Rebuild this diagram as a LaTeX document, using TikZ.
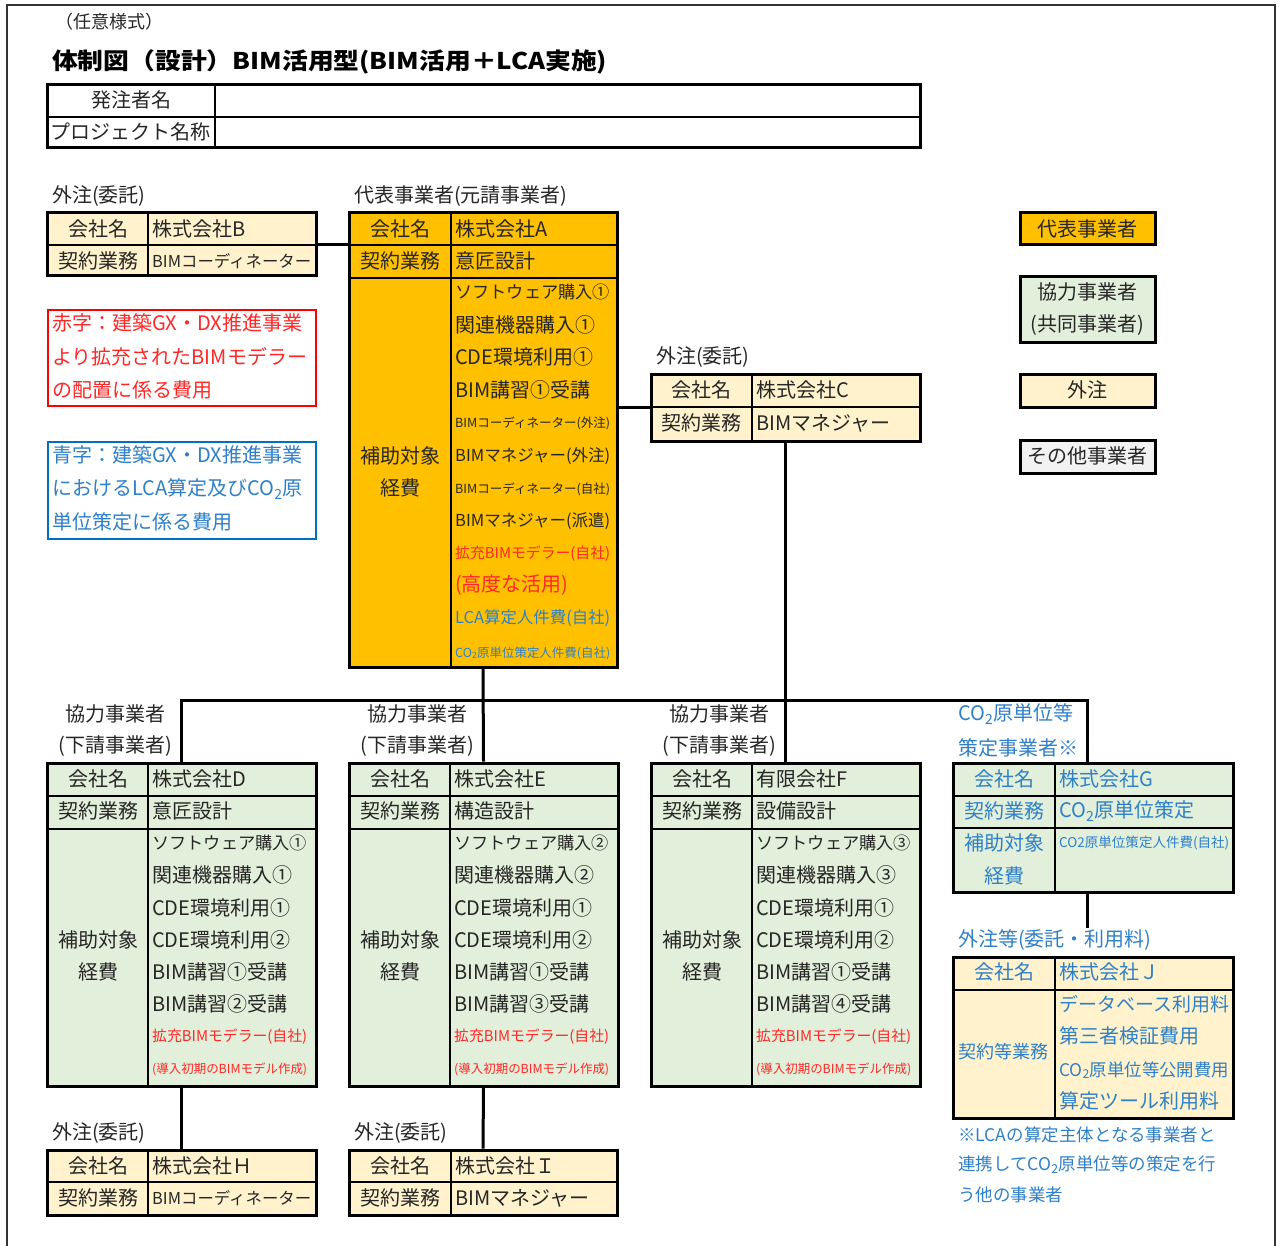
\documentclass[tikz,border=0pt]{standalone}
\usepackage{fontspec}
\usepackage{graphicx}
\setmainfont{Noto Sans CJK JP}
\usetikzlibrary{fit}

\definecolor{orgA}{RGB}{255,192,0}
\definecolor{outY}{RGB}{255,242,204}
\definecolor{coopG}{RGB}{226,239,218}
\definecolor{othG}{RGB}{242,242,242}
\definecolor{txtK}{RGB}{38,38,38}
\definecolor{txtR}{RGB}{255,40,40}
\definecolor{txtB}{RGB}{47,128,200}
\definecolor{boxB}{RGB}{0,112,192}

\newsavebox\fitsb
\newcommand\fitbox[2]{\sbox\fitsb{#2}\ifdim\wd\fitsb>#1pt\relax\resizebox{#1pt}{!}{\usebox\fitsb}\else\usebox\fitsb\fi}
\newcommand\COt{CO\textsubscript{2}}
\newcounter{tn}
\newcommand\tx[4][]{\stepcounter{tn}\node[txt,#1] (t\arabic{tn}) at (#2,#3) {#4};}
\newcommand\li[4][]{\tx[#1]{#2}{#3}{\fitbox{\fw}{#4}}}
\def\fw{155}

\tikzset{
  txt/.style={inner sep=0pt, anchor=west, text=txtK, font=\fontsize{20}{24}\selectfont},
  bx/.style={draw=black, line width=3pt, inner sep=0pt, rectangle},
  gl/.style={line width=2.5pt, black},
  conn/.style={line width=3pt, black}
}

% cooperating sub-contractor box
\newcommand\coop[7]{%
  \pgfmathsetmacro\xr{#2+269}\pgfmathsetmacro\xc{#2+101}%
  \pgfmathsetmacro\xm{#2+51}\pgfmathsetmacro\xt{#2+105}\pgfmathsetmacro\xl{#2+68}%
  \node[bx, fill=coopG, fit={(#2,763)(\xr,1086)}] (#1) {};
  \draw[gl] (\xc,763) -- (\xc,1086);
  \draw[gl] (#2,796) -- (\xr,796);
  \draw[gl] (#2,829) -- (\xr,829);
  \tx[anchor=center]{\xl}{714}{協力事業者}
  \tx[anchor=center]{\xl}{746}{(下請事業者)}
  \tx[anchor=center]{\xm}{779}{会社名}
  \tx[anchor=center]{\xm}{811}{契約業務}
  \tx[anchor=center]{\xm}{940}{補助対象}
  \tx[anchor=center]{\xm}{972}{経費}
  \tx{\xt}{779}{#3}
  \tx{\xt}{811}{#4}
  \li{\xt}{843}{ソフトウェア購入#5}
  \li{\xt}{875}{関連機器購入#6}
  \li{\xt}{908}{CDE環境利用①}
  \li{\xt}{940}{CDE環境利用②}
  \li{\xt}{972}{BIM講習①受講}
  \li{\xt}{1004}{BIM講習#7受講}
  \li[text=txtR]{\xt}{1037}{拡充BIMモデラー(自社)}
  \li[text=txtR]{\xt}{1069}{(導入初期のBIMモデル作成)}
}

\begin{document}
\begin{tikzpicture}[x=1pt, y=-1pt]
\useasboundingbox (0,0) rectangle (1279,1246);
\fill[white] (0,0) rectangle (1279,1246);
\draw[line width=1.5pt, black!80] (7,1246) -- (7,5) -- (1275,5) -- (1275,1246);

% header
\tx[font=\fontsize{18}{22}\selectfont]{55}{22}{（任意様式）}
\tx[font=\fontsize{23}{27}\selectfont\bfseries, text=black]{52}{62}{\resizebox{555pt}{\height}{体制図（設計）BIM活用型(BIM活用＋LCA実施)}}
\node[bx, fill=white, fit={(47,85)(920,148)}] (T) {};
\draw[gl] (215,85) -- (215,148);
\draw[gl] (47,117) -- (920,117);
\tx[anchor=center]{131}{100}{発注者名}
\tx{50}{132}{\fitbox{162}{プロジェクト名称}}

% labels
\tx{52}{196}{外注(委託)}
\tx{354}{196}{代表事業者(元請事業者)}

% box B
\node[bx, fill=outY, fit={(47,213)(316,276)}] (B) {};
\draw[gl] (148,213) -- (148,276);
\draw[gl] (47,245) -- (316,245);
\tx[anchor=center]{98}{229}{会社名}
\tx{152}{229}{株式会社B}
\tx[anchor=center]{98}{261}{契約業務}
\tx{152}{261}{\fitbox{159}{BIMコーディネーター}}

% box A
\node[bx, fill=orgA, fit={(349,213)(617,667)}] (A) {};
\draw[gl] (451,213) -- (451,667);
\draw[gl] (349,245) -- (617,245);
\draw[gl] (349,278) -- (617,278);
\tx[anchor=center]{400}{229}{会社名}
\tx{455}{229}{株式会社A}
\tx[anchor=center]{400}{261}{契約業務}
\tx{455}{261}{意匠設計}
\tx[anchor=center]{400}{456}{補助対象}
\tx[anchor=center]{400}{488}{経費}
\li{455}{292}{ソフトウェア購入①}
\li{455}{325}{関連機器購入①}
\li{455}{357}{CDE環境利用①}
\li{455}{390}{BIM講習①受講}
\li{455}{423}{BIMコーディネーター(外注)}
\li{455}{456}{BIMマネジャー(外注)}
\li{455}{489}{BIMコーディネーター(自社)}
\li{455}{521}{BIMマネジャー(派遣)}
\li[text=txtR]{455}{554}{拡充BIMモデラー(自社)}
\li[text=txtR]{455}{585}{(高度な活用)}
\li[text=txtB]{455}{618}{LCA算定人件費(自社)}
\li[text=txtB]{455}{653}{\COt 原単位策定人件費(自社)}

% notes
\node[draw=red, line width=2pt, inner sep=0pt, fit={(48,310)(316,406)}] (RN) {};
\tx[text=txtR]{52}{323}{赤字：建築GX・DX推進事業}
\tx[text=txtR]{52}{357}{より拡充されたBIMモデラー}
\tx[text=txtR]{52}{390}{の配置に係る費用}
\node[draw=boxB, line width=2pt, inner sep=0pt, fit={(48,442)(316,539)}] (BN) {};
\tx[text=txtB]{52}{455}{青字：建築GX・DX推進事業}
\tx[text=txtB]{52}{489}{におけるLCA算定及び\COt 原}
\tx[text=txtB]{52}{522}{単位策定に係る費用}

% box C
\tx{656}{357}{外注(委託)}
\node[bx, fill=outY, fit={(651,374)(920,441)}] (C) {};
\draw[gl] (752,374) -- (752,441);
\draw[gl] (651,407) -- (920,407);
\tx[anchor=center]{701.5}{390}{会社名}
\tx{756}{390}{株式会社C}
\tx[anchor=center]{701.5}{423}{契約業務}
\tx{756}{423}{BIMマネジャー}

% legend
\node[bx, fill=orgA, fit={(1020,213)(1155,245)}] (L1) {};
\node[bx, fill=coopG, fit={(1020,277)(1155,343)}] (L2) {};
\node[bx, fill=outY, fit={(1020,374)(1155,407)}] (L3) {};
\node[bx, fill=othG, fit={(1020,440)(1155,473)}] (L4) {};
\tx[anchor=center]{1087.5}{229}{代表事業者}
\tx[anchor=center]{1087.5}{292}{協力事業者}
\tx[anchor=center]{1087.5}{325}{(共同事業者)}
\tx[anchor=center]{1087.5}{390}{外注}
\tx[anchor=center]{1087.5}{456}{その他事業者}

% cooperating boxes
\coop{D}{47}{株式会社D}{意匠設計}{①}{①}{②}
\coop{E}{349}{株式会社E}{構造設計}{②}{②}{③}
\coop{F}{651}{有限会社F}{設備設計}{③}{③}{④}

% box G
\tx[text=txtB]{958}{714}{\COt 原単位等}
\tx[text=txtB]{958}{748}{策定事業者※}
\node[bx, fill=coopG, fit={(953,763)(1233,892)}] (G) {};
\draw[gl] (1055,763) -- (1055,892);
\draw[gl] (953,796) -- (1233,796);
\draw[gl] (953,828) -- (1233,828);
\tx[anchor=center, text=txtB]{1004}{779}{会社名}
\tx[anchor=center, text=txtB]{1004}{811}{契約業務}
\tx[anchor=center, text=txtB]{1004}{843}{補助対象}
\tx[anchor=center, text=txtB]{1004}{876}{経費}
\tx[text=txtB]{1059}{779}{株式会社G}
\tx[text=txtB]{1059}{811}{\COt 原単位策定}
\def\fw{170}
\li[text=txtB]{1059}{843}{CO2原単位策定人件費(自社)}

% box J
\tx[text=txtB]{958}{940}{外注等(委託・利用料)}
\node[bx, fill=outY, fit={(953,957)(1233,1118)}] (J) {};
\draw[gl] (1055,957) -- (1055,1118);
\draw[gl] (953,990) -- (1233,990);
\tx[anchor=center, text=txtB]{1004}{972}{会社名}
\tx[text=txtB]{958}{1052}{\fitbox{90}{契約等業務}}
\tx[text=txtB]{1059}{972}{株式会社Ｊ}
\li[text=txtB]{1059}{1004}{データベース利用料}
\li[text=txtB]{1059}{1036}{第三者検証費用}
\li[text=txtB]{1059}{1070}{\COt 原単位等公開費用}
\li[text=txtB]{1059}{1101}{算定ツール利用料}
\def\fw{155}

% footnote
\tx[text=txtB, font=\fontsize{17.5}{20}\selectfont]{958}{1135}{※LCAの算定主体となる事業者と}
\tx[text=txtB, font=\fontsize{17.5}{20}\selectfont]{958}{1165}{連携して\COt 原単位等の策定を行}
\tx[text=txtB, font=\fontsize{17.5}{20}\selectfont]{958}{1195}{う他の事業者}

% box H
\tx{52}{1133}{外注(委託)}
\node[bx, fill=outY, fit={(47,1150)(316,1215)}] (H) {};
\draw[gl] (148,1150) -- (148,1215);
\draw[gl] (47,1182) -- (316,1182);
\tx[anchor=center]{98}{1166}{会社名}
\tx{152}{1166}{株式会社Ｈ}
\tx[anchor=center]{98}{1198}{契約業務}
\tx{152}{1198}{\fitbox{159}{BIMコーディネーター}}

% box I
\tx{354}{1133}{外注(委託)}
\node[bx, fill=outY, fit={(349,1150)(617,1215)}] (I) {};
\draw[gl] (451,1150) -- (451,1215);
\draw[gl] (349,1182) -- (617,1182);
\tx[anchor=center]{400}{1166}{会社名}
\tx{455}{1166}{株式会社Ｉ}
\tx[anchor=center]{400}{1198}{契約業務}
\tx{455}{1198}{BIMマネジャー}

% connectors
\coordinate (busL) at (181.5,700);
\coordinate (busR) at (1087,700);
\coordinate (Gtop) at (1087,763);
\coordinate (Gbot) at (1087,892);
\coordinate (Jlab) at (1087,928);
\draw[conn] (B.east) -- (B.east -| A.west);
\draw[conn] (C.west -| A.east) -- (C.west);
\draw[conn] (D.north) -- (busL) -- (busR) -- (Gtop);
\draw[conn] (A.south) -- (E.north);
\draw[conn] (C.south) -- (F.north);
\draw[conn] (Gbot) -- (Jlab);
\draw[conn] (D.south) -- (H.north);
\draw[conn] (E.south) -- (I.north);
\end{tikzpicture}
\end{document}
